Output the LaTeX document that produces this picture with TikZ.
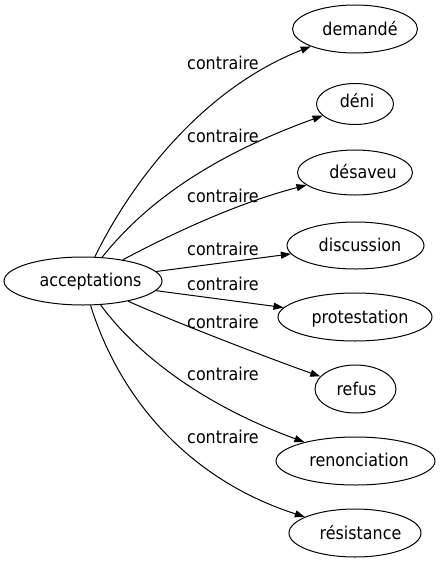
\documentclass[tikz,border=0pt]{standalone}
\usepackage{fontspec}
\setmainfont{DejaVu Sans Condensed}
\usetikzlibrary{shapes.geometric,arrows.meta}
\begin{document}
\begin{tikzpicture}[x=1pt,y=-1pt,
  ell/.style={draw, ellipse, inner sep=0pt, line width=1pt},
  txt/.style={anchor=base, inner sep=0pt, font=\fontsize{17.7}{20}\selectfont},
  conn/.style={draw, line width=1pt, -{Triangle[length=10pt,width=7pt]}},
  ]
\useasboundingbox (0,0) rectangle (440,563);
% ellipses
\node[ell, minimum width=158pt, minimum height=48pt] (acc) at (83,281) {};
\node[ell, minimum width=125pt, minimum height=48pt] (dem) at (355,29) {};
\node[ell, minimum width=77pt, minimum height=41pt] (den) at (355,104) {};
\node[ell, minimum width=115pt, minimum height=45pt] (des) at (355,172.5) {};
\node[ell, minimum width=137pt, minimum height=47pt] (dis) at (355.5,245.5) {};
\node[ell, minimum width=154pt, minimum height=48pt] (pro) at (355,317) {};
\node[ell, minimum width=81pt, minimum height=48pt] (ref) at (355.5,389) {};
\node[ell, minimum width=159pt, minimum height=48pt] (ren) at (355.5,461) {};
\node[ell, minimum width=132pt, minimum height=48pt] (res) at (355,533) {};
% node texts
\node[txt] (tacc) at (90.5,286.7) {acceptations};
\node[txt] (tdem) at (360,35.5) {demandé};
\node[txt] (tden) at (357,107) {déni};
\node[txt] (tdes) at (363,178.3) {désaveu};
\node[txt] (tdis) at (360,251) {discussion};
\node[txt] (tpro) at (360,323.3) {protestation};
\node[txt] (tref) at (356.5,395) {refus};
\node[txt] (tren) at (359,466.7) {renonciation};
\node[txt] (tres) at (360.5,539) {résistance};
% edge labels
\node[txt] (l1) at (223,69.3) {contraire};
\node[txt] (l2) at (223,142.7) {contraire};
\node[txt] (l3) at (223,202.7) {contraire};
\node[txt] (l4) at (223,255) {contraire};
\node[txt] (l5) at (223,290.7) {contraire};
\node[txt] (l6) at (223,328.3) {contraire};
\node[txt] (l7) at (223,380) {contraire};
\node[txt] (l8) at (223,443) {contraire};
% connectors
\path[conn] (acc) .. controls (130,185) and (200,90) .. (dem);
\path[conn] (acc) .. controls (140,210) and (200,160) .. (den);
\path[conn] (acc) .. controls (160,240) and (230,205) .. (des);
\path[conn] (acc) -- (dis);
\path[conn] (acc) -- (pro);
\path[conn] (acc) .. controls (170,320) and (260,355) .. (ref);
\path[conn] (acc) .. controls (130,345) and (190,400) .. (ren);
\path[conn] (acc) .. controls (120,400) and (190,480) .. (res);
\end{tikzpicture}
\end{document}
